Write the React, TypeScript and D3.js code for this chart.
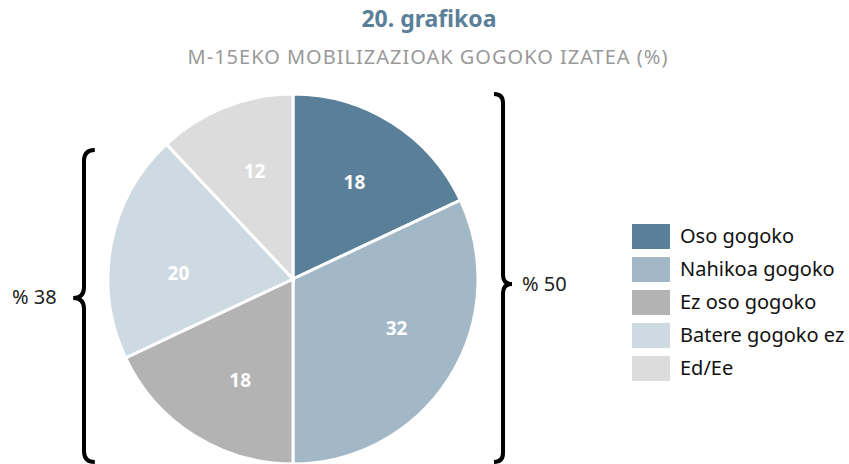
import React from "react";
import * as d3 from "d3";

const categories = ["Oso gogoko", "Nahikoa gogoko", "Ez oso gogoko", "Batere gogoko ez", "Ed/Ee"];
const values = [18, 32, 18, 20, 12];
const colors = ["#5a8099", "#a2b8c6", "#b3b3b3", "#cddae2", "#dcdcdc"];
const title = "20. grafikoa";
const subtitle = "M-15EKO MOBILIZAZIOAK GOGOKO IZATEA (%)";
const bracketLabels = ["% 50", "% 38"];

const W = 849, H = 464;
const FONT = "'Noto Sans', 'Open Sans', sans-serif";
// hand-placed label angle tweaks (degrees), as in the original layout
const labelAngleShift = [0, -7, -5, -8, 2];

function bracePath(x: number, y0: number, y1: number, ym: number, dir: number, w: number) {
  const h = w * 0.6;
  const tip = x + dir * w * 0.9;
  const back = x - dir * w * 0.9;
  return [
    `M${back},${y0}`,
    `Q${x},${y0} ${x},${y0 + h * 1.5}`,
    `L${x},${ym - h * 1.5}`,
    `Q${x},${ym} ${tip},${ym}`,
    `Q${x},${ym} ${x},${ym + h * 1.5}`,
    `L${x},${y1 - h * 1.5}`,
    `Q${x},${y1} ${back},${y1}`,
  ].join(" ");
}

export default function App() {
  const cx = 293, cy = 279, r = 185;
  const pie = d3.pie<number>().sort(null).value((d) => d)(values);
  const arc = d3.arc<d3.PieArcDatum<number>>().innerRadius(0).outerRadius(r);
  const lr = r * 0.62;

  return (
    <svg width={W} height={H} style={{ position: "absolute", left: 0, top: 0, display: "block" }}>
      <text x={429} y={27} textAnchor="middle" fontFamily={FONT} fontWeight="bold" fontSize={23} fill="#5a8099">
        {title}
      </text>
      <text x={428} y={64} textAnchor="middle" fontFamily={FONT} fontSize={20} letterSpacing={1} fill="#999999">
        {subtitle}
      </text>
      <g transform={`translate(${cx},${cy})`}>
        {pie.map((p, i) => (
          <path key={i} d={arc(p) || ""} fill={colors[i]} stroke="#ffffff" strokeWidth={3} />
        ))}
        {pie.map((p, i) => {
          const a = (p.startAngle + p.endAngle) / 2 + (labelAngleShift[i] * Math.PI) / 180;
          const lx = lr * Math.sin(a);
          const ly = -lr * Math.cos(a);
          return (
            <text key={"l" + i} x={lx} y={ly} dy="0.35em" textAnchor="middle" fontFamily={FONT} fontWeight="bold" fontSize={19} fill="#ffffff">
              {values[i]}
            </text>
          );
        })}
      </g>
      <path d={bracePath(503, 94, 462, 284, 1, 10)} fill="none" stroke="#000" strokeWidth={4} />
      <text x={522} y={291} fontFamily={FONT} fontSize={20} fill="#222">{bracketLabels[0]}</text>
      <path d={bracePath(84, 150, 462, 298, -1, 12)} fill="none" stroke="#000" strokeWidth={4} />
      <text x={12} y={304} fontFamily={FONT} fontSize={20} fill="#222">{bracketLabels[1]}</text>
      {categories.map((c, i) => (
        <g key={c} transform={`translate(632,${224 + i * 33})`}>
          <rect width={38} height={25} fill={colors[i]} />
          <text x={48} y={19} fontFamily={FONT} fontSize={20} fill="#111">{c}</text>
        </g>
      ))}
    </svg>
  );
}
